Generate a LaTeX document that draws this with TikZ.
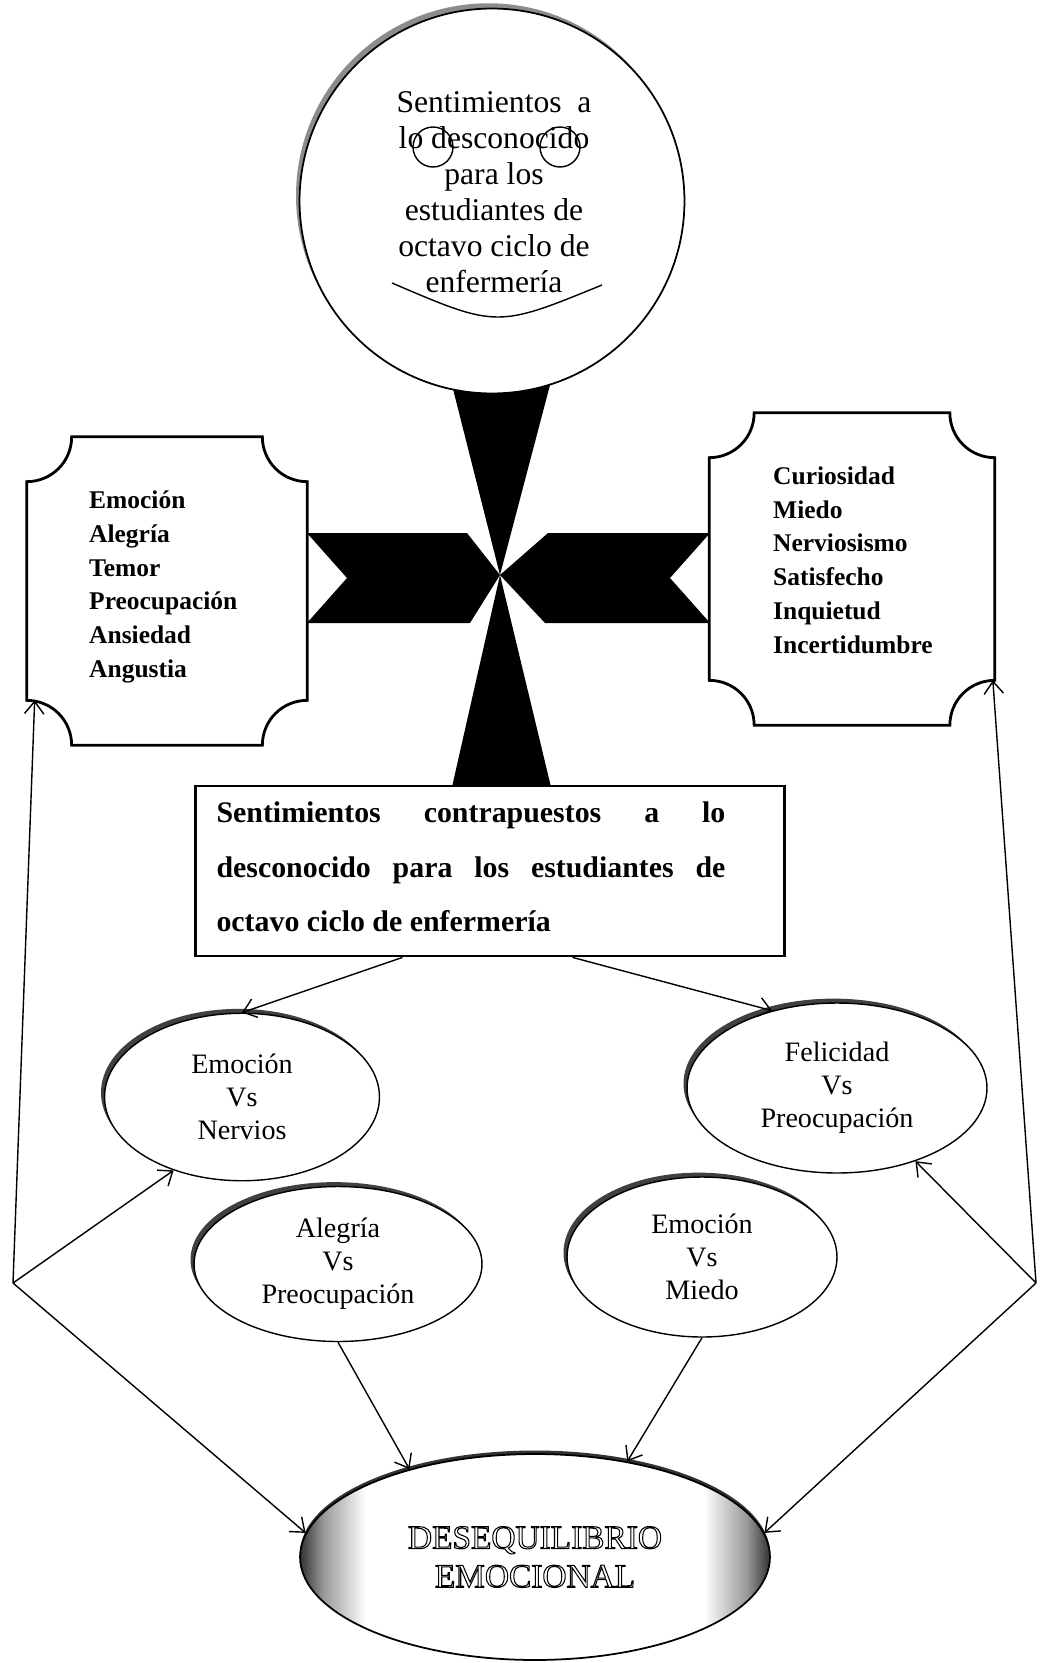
\documentclass[tikz,border=0pt]{standalone}
\usepackage{fontspec}
\setmainfont{Liberation Serif}
\usetikzlibrary{shapes.geometric, arrows.meta, positioning, calc, shadows}

% dark rims left and right, white middle
\pgfdeclarehorizontalshading{edgeshade}{100bp}{color(0bp)=(black!80); color(25bp)=(black!80);
    color(27.5bp)=(black!40); color(32bp)=(white); color(68bp)=(white);
    color(72.5bp)=(black!40); color(75bp)=(black!80); color(100bp)=(black!80)}

% hollow letters
\newcommand{\hollow}[1]{\special{pdf:literal direct 1 Tr 0.6 w}#1\special{pdf:literal direct 0 Tr}}

% box with cut-in corners round a named node
\newcommand{\plaque}[1]{%
  \draw[line width=1.6pt, fill=white]
    ([xshift=0.9cm]#1.north west) -- ([xshift=-0.9cm]#1.north east)
    .. controls +(0,-0.5cm) and +(-0.5cm,0) .. ([yshift=-0.9cm]#1.north east)
    -- ([yshift=0.9cm]#1.south east)
    .. controls +(-0.5cm,0) and +(0,0.5cm) .. ([xshift=-0.9cm]#1.south east)
    -- ([xshift=0.9cm]#1.south west)
    .. controls +(0,0.5cm) and +(0.5cm,0) .. ([yshift=0.9cm]#1.south west)
    -- ([yshift=-0.9cm]#1.north west)
    .. controls +(0.5cm,0) and +(0,-0.5cm) .. ([xshift=0.9cm]#1.north west) -- cycle;}

\begin{document}
\begin{tikzpicture}[x=0.02cm, y=-0.02cm,
    face/.style={circle, draw, line width=1pt, fill=white, minimum size=7.7cm,
                 general shadow={fill=black!45, shadow xshift=-2pt, shadow yshift=3pt}},
    facetext/.style={align=center, font=\fontsize{18}{20.5}\selectfont},
    plaquebox/.style={rectangle, inner sep=0pt},
    listtext/.style={anchor=west, align=left, font=\bfseries\fontsize{14.5}{19.2}\selectfont},
    mainbox/.style={rectangle, draw, line width=1.6pt, fill=white,
                    minimum width=11.78cm, minimum height=3.4cm},
    maintext/.style={text width=10.18cm, align=justify, font=\bfseries\fontsize{17}{30.9}\selectfont},
    vsoval/.style={ellipse, draw, line width=0.8pt, fill=white, align=center,
                   font=\fontsize{16}{18.7}\selectfont,
                   general shadow={fill=black!75, shadow xshift=-2pt, shadow yshift=2.5pt}},
    bigoval/.style={ellipse, draw, line width=1pt, shade, shading=edgeshade,
                    minimum width=9.4cm, minimum height=4.12cm, align=center,
                    font=\fontsize{19}{22}\selectfont,
                    general shadow={fill=black!80, shadow xshift=0pt, shadow yshift=2pt}},
    arr/.style={-{Straight Barb[length=7pt,width=11pt]}, line width=0.8pt}
]
    \fill[white] (0,0) rectangle (1039,1663);
    \useasboundingbox (0,0) rectangle (1039,1663);

    % black cross
    \coordinate (hub) at (500,575);
    \fill[black] (452,385) -- (550,385) -- (hub) -- cycle;
    \fill[black] (hub) -- (551,787) -- (452,787) -- cycle;
    \fill[black] (307,533) -- (467,533) -- (hub) -- (470,623) -- (307,623) -- (347,578) -- cycle;
    \fill[black] (548,533) -- (710,533) -- (670,578) -- (710,623) -- (545,623) -- (hub) -- cycle;

    % face
    \node[face] (face) at (492,201) {};
    \node[facetext] (facetxt) at (494,192) {Sentimientos\ \ a\\lo desconocido\\para los\\estudiantes de\\octavo ciclo de\\enfermería};
    \draw[line width=0.8pt] (433,147) circle [radius=0.4cm];
    \draw[line width=0.8pt] (560,147) circle [radius=0.4cm];
    \draw[line width=0.8pt] (392,283) .. controls (497,328) .. (602,285);

    % side boxes
    \node[plaquebox, minimum width=5.6cm, minimum height=6.16cm] (lbox) at (167,591) {};
    \node[plaquebox, minimum width=5.7cm, minimum height=6.24cm] (rbox) at (852,569) {};
    \plaque{lbox}
    \plaque{rbox}
    \node[listtext] (ltxt) at (83,587) {Emoción\\Alegría\\Temor\\Preocupación\\Ansiedad\\Angustia};
    \node[listtext] (rtxt) at (767,560) {Curiosidad\\Miedo\\Nerviosismo\\Satisfecho\\Inquietud\\Incertidumbre};

    % main box
    \node[mainbox] (rect) at (490,871) {};
    \node[maintext] (recttxt) at (471,867) {Sentimientos contrapuestos a lo\linebreak
        desconocido para los estudiantes de\linebreak octavo ciclo de enfermería};

    % pairs
    \node[vsoval, minimum width=5.5cm, minimum height=3.35cm] (envn) at (242,1097) {Emoción\\Vs\\Nervios};
    \node[vsoval, minimum width=6cm, minimum height=3.4cm] (fvp) at (837,1088) {Felicidad\\Vs\\Preocupación};
    \node[vsoval, minimum width=5.76cm, minimum height=3.1cm] (avp) at (338,1264) {Alegría\\Vs\\Preocupación};
    \node[vsoval, minimum width=5.4cm, minimum height=3.2cm] (emv) at (702,1257) {Emoción\\Vs\\Miedo};

    % outcome
    \node[bigoval] (deseq) at (535,1557) {\hollow{DESEQUILIBRIO}\\\hollow{EMOCIONAL}};

    % arrows
    \draw[arr] ([xshift=-1.75cm]rect.south) -- (envn.north);
    \draw[arr] ([xshift=1.65cm]rect.south) -- (fvp.130);

    \coordinate (lhub) at (13,1283);
    \coordinate (rhub) at (1036,1283);
    \draw[arr] (lhub) -- ([xshift=0.16cm,yshift=0.9cm]lbox.south west);
    \draw[arr] (lhub) -- (envn.227);
    \draw[arr] (lhub) -- (deseq.174);
    \draw[arr] (rhub) -- ([xshift=-0.04cm,yshift=0.9cm]rbox.south east);
    \draw[arr] (rhub) -- (fvp.317);
    \draw[arr] (rhub) -- (deseq.6);
    \draw[arr] (avp.south) -- (deseq.145);
    \draw[arr] (emv.south) -- (deseq.46);
\end{tikzpicture}
\end{document}
